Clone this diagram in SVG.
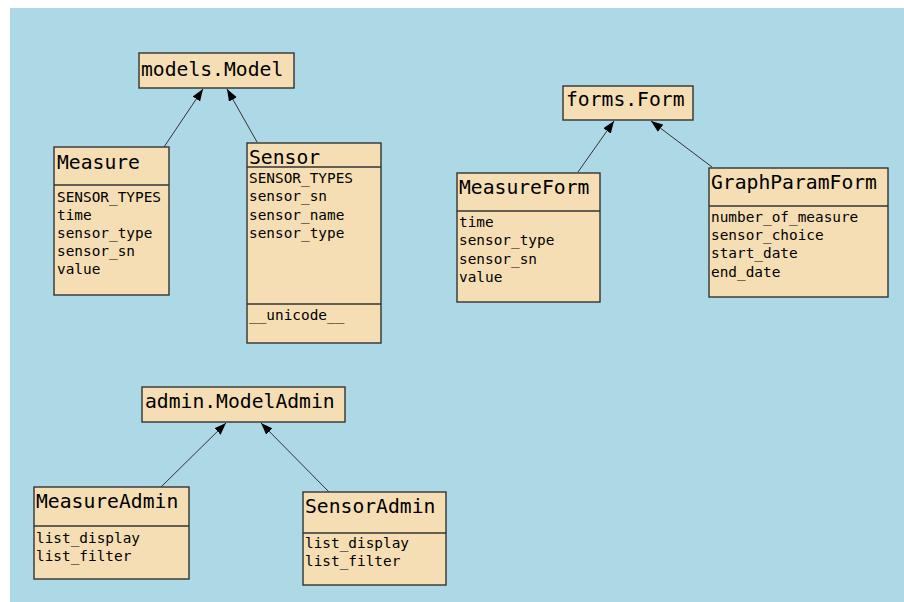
<svg xmlns="http://www.w3.org/2000/svg" width="904" height="602" viewBox="0 0 904 602">
<style>
.box{fill:#F5DEB3;stroke:#333333;stroke-width:1.4}
.sep{stroke:#333333;stroke-width:1.4}
.t{font-family:"DejaVu Sans Mono","Liberation Mono",monospace;font-size:19.7px;fill:#000000}
.a{font-family:"DejaVu Sans Mono","Liberation Mono",monospace;font-size:14.4px;fill:#000000}
.edge{stroke:#333333;stroke-width:1;fill:none;marker-end:url(#arr)}
</style>
<defs>
<marker id="arr" markerUnits="userSpaceOnUse" markerWidth="13" markerHeight="10" refX="12" refY="4.5" orient="auto">
<path d="M0,0 L12,4.5 L0,9 z" fill="#000000"/>
</marker>
</defs>
<rect x="10" y="8" width="894" height="594" fill="#ADD8E6"/>
<g id="connectors">
<line class="edge" x1="164" y1="147" x2="203" y2="89"/>
<line class="edge" x1="257" y1="142" x2="227" y2="89"/>
<line class="edge" x1="578" y1="172" x2="614" y2="121"/>
<line class="edge" x1="712" y1="167" x2="651" y2="121"/>
<line class="edge" x1="161" y1="487" x2="226" y2="423"/>
<line class="edge" x1="329" y1="492" x2="261" y2="423"/>
</g>
<g id="models_Model">
<rect class="box" x="139" y="53" width="155" height="35"/>
<text class="t" x="141" y="76">models.Model</text>
</g>
<g id="Measure">
<rect class="box" x="54" y="147" width="115" height="148"/>
<line class="sep" x1="54" y1="185" x2="169" y2="185"/>
<text class="t" x="57" y="169">Measure</text>
<text class="a" x="57" y="202">SENSOR_TYPES</text>
<text class="a" x="57" y="220">time</text>
<text class="a" x="57" y="238">sensor_type</text>
<text class="a" x="57" y="256">sensor_sn</text>
<text class="a" x="57" y="274">value</text>
</g>
<g id="Sensor">
<rect class="box" x="247" y="143" width="134" height="200"/>
<line class="sep" x1="247" y1="167" x2="381" y2="167"/>
<line class="sep" x1="247" y1="304" x2="381" y2="304"/>
<text class="t" x="249" y="164">Sensor</text>
<text class="a" x="249" y="183">SENSOR_TYPES</text>
<text class="a" x="249" y="201">sensor_sn</text>
<text class="a" x="249" y="220">sensor_name</text>
<text class="a" x="249" y="238">sensor_type</text>
<text class="a" x="249" y="320">__unicode__</text>
</g>
<g id="forms_Form">
<rect class="box" x="563" y="86" width="130" height="34"/>
<text class="t" x="566" y="106">forms.Form</text>
</g>
<g id="MeasureForm">
<rect class="box" x="457" y="173" width="143" height="129"/>
<line class="sep" x1="457" y1="211" x2="600" y2="211"/>
<text class="t" x="459" y="194">MeasureForm</text>
<text class="a" x="459" y="227">time</text>
<text class="a" x="459" y="245">sensor_type</text>
<text class="a" x="459" y="264">sensor_sn</text>
<text class="a" x="459" y="282">value</text>
</g>
<g id="GraphParamForm">
<rect class="box" x="709" y="168" width="179" height="129"/>
<line class="sep" x1="709" y1="206" x2="888" y2="206"/>
<text class="t" x="711" y="189">GraphParamForm</text>
<text class="a" x="711" y="222">number_of_measure</text>
<text class="a" x="711" y="240">sensor_choice</text>
<text class="a" x="711" y="258">start_date</text>
<text class="a" x="711" y="277">end_date</text>
</g>
<g id="admin_ModelAdmin">
<rect class="box" x="142" y="387" width="203" height="35"/>
<text class="t" x="145" y="408">admin.ModelAdmin</text>
</g>
<g id="MeasureAdmin">
<rect class="box" x="34" y="487" width="155" height="92"/>
<line class="sep" x1="34" y1="526" x2="189" y2="526"/>
<text class="t" x="36" y="508">MeasureAdmin</text>
<text class="a" x="36" y="543">list_display</text>
<text class="a" x="36" y="561">list_filter</text>
</g>
<g id="SensorAdmin">
<rect class="box" x="303" y="492" width="143" height="93"/>
<line class="sep" x1="303" y1="533" x2="446" y2="533"/>
<text class="t" x="305" y="513">SensorAdmin</text>
<text class="a" x="305" y="548">list_display</text>
<text class="a" x="305" y="566">list_filter</text>
</g>
</svg>
